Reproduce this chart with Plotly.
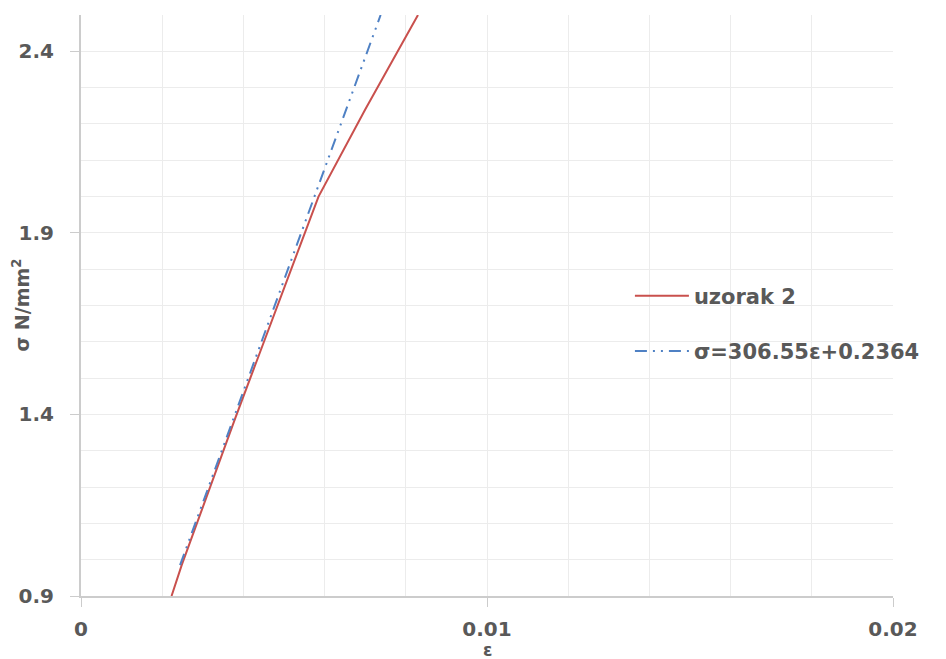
import plotly.graph_objects as go

# Data
eps_sample = [0.00223, 0.00248, 0.00380, 0.00585, 0.00700, 0.00830]
sig_sample = [0.90, 0.985, 1.39, 2.00, 2.24, 2.50]

eps_trend = [0.00244, 0.00738]
sig_trend = [0.985, 2.50]

name_sample = "uzorak 2"
name_trend = "σ=306.55ε+0.2364"

x_ticks = [0, 0.01, 0.02]
x_tick_text = ["0", "0.01", "0.02"]
y_ticks = [0.9, 1.4, 1.9, 2.4]
y_tick_text = ["0.9", "1.4", "1.9", "2.4"]

x_title = "ε"
y_title = "σ N/mm<sup>2</sup>"

FONT = "DejaVu Sans"
TXT = "#595959"
GRID = "#ececec"
AXIS = "#cccccc"

fig = go.Figure()
fig.add_trace(go.Scatter(
    x=eps_sample, y=sig_sample, mode="lines", name=name_sample,
    line=dict(color="#c9504d", width=2), legendgroup="a"))
fig.add_trace(go.Scatter(
    x=eps_trend, y=sig_trend, mode="lines", name=name_trend,
    line=dict(color="#4f81c4", width=2, dash="12px,6px,2px,6px,2px,6px"),
    legendgroup="b"))

fig.update_layout(
    width=946, height=659,
    margin=dict(l=81, r=53, t=15, b=63),
    paper_bgcolor="white", plot_bgcolor="white",
    font=dict(family=FONT, color=TXT, size=17),
    showlegend=True,
    legend=dict(
        x=0.676, y=0.469, xanchor="left", yanchor="middle",
        bgcolor="rgba(0,0,0,0)", tracegroupgap=25,
        font=dict(family=FONT, size=21, color=TXT, weight="bold"),
        itemwidth=54),
    xaxis=dict(
        range=[0, 0.02], tickvals=x_ticks, ticktext=x_tick_text,
        showgrid=True, gridcolor=GRID, gridwidth=1,
        minor=dict(dtick=0.002, tick0=0, showgrid=True, gridcolor=GRID),
        showline=True, linecolor=AXIS, linewidth=2,
        ticks="outside", ticklen=9, tickcolor=AXIS,
        tickfont=dict(family=FONT, size=20, color=TXT, weight="bold"),
        ticklabelstandoff=5,
        zeroline=False, automargin=False,
    ),
    yaxis=dict(
        range=[0.9, 2.5], tickvals=y_ticks, ticktext=y_tick_text,
        showgrid=True, gridcolor=GRID, gridwidth=1,
        minor=dict(dtick=0.1, tick0=0.9, showgrid=True, gridcolor=GRID),
        showline=True, linecolor=AXIS, linewidth=2,
        ticks="outside", ticklen=9, tickcolor=AXIS,
        tickfont=dict(family=FONT, size=20, color=TXT, weight="bold"),
        ticklabelstandoff=12,
        zeroline=False, automargin=False,
    ),
    annotations=[
        dict(text=x_title, xref="paper", yref="paper", x=0.5, y=-0.093,
             xanchor="center", yanchor="middle", showarrow=False,
             font=dict(family=FONT, size=17, color=TXT, weight="bold")),
        dict(text=y_title, xref="paper", yref="paper", x=-0.075, y=0.5,
             xanchor="center", yanchor="middle", textangle=-90, showarrow=False,
             font=dict(family=FONT, size=19, color=TXT, weight="bold")),
    ],
)

fig.write_html("out.html", config={"displayModeBar": False},
               post_script="document.body.style.margin='0px';document.body.style.overflow='hidden';")
